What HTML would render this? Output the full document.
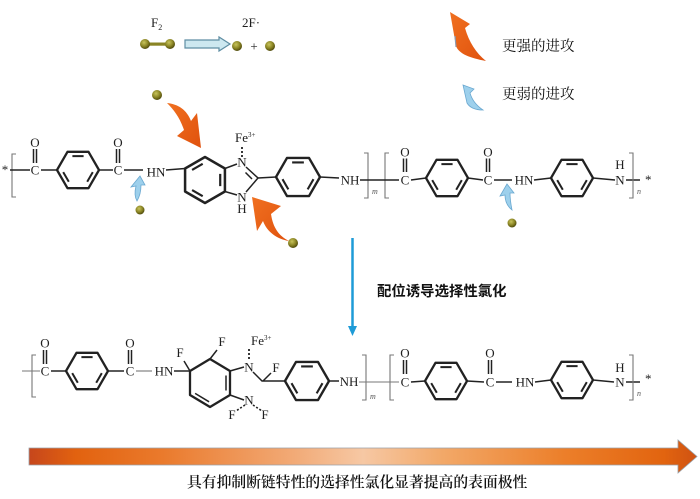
<!DOCTYPE html>
<html><head><meta charset="utf-8">
<style>
html,body{margin:0;padding:0;background:#fff;width:700px;height:499px;overflow:hidden;}
svg{display:block;}
.t{font-family:"Liberation Serif",serif;font-size:13px;fill:#1e1e1e;}
.s{font-family:"Liberation Serif",serif;font-size:8px;font-style:italic;fill:#555;}
.cn{font-family:"Liberation Serif","Noto Serif CJK SC",serif;font-size:14.5px;fill:#111;}
.b{stroke:#222;stroke-width:1.5;fill:none;}
.g{stroke:#777;stroke-width:1.1;fill:none;}
</style></head><body>
<svg width="700" height="499" viewBox="0 0 700 499" xmlns="http://www.w3.org/2000/svg">
<defs>
<g id="bz" fill="none" stroke="#222">
 <polygon points="21,0 10.5,18.19 -10.5,18.19 -21,0 -10.5,-18.19 10.5,-18.19" stroke-width="2.3" stroke-linejoin="round"/>
 <path d="M-5.6,-13.9 H5.6 M14.8,2.1 L9.2,11.8 M-14.8,2.1 L-9.2,11.8" stroke-width="2"/>
</g>
<radialGradient id="dot" cx="40%" cy="35%" r="65%">
 <stop offset="0" stop-color="#c8c45c"/><stop offset="0.6" stop-color="#8a8424"/><stop offset="1" stop-color="#4f4a0c"/>
</radialGradient>
<linearGradient id="big" x1="0" x2="1" y1="0" y2="0">
 <stop offset="0" stop-color="#c6461c"/>
 <stop offset="0.07" stop-color="#e2620f"/>
 <stop offset="0.2" stop-color="#ea7a2c"/>
 <stop offset="0.4" stop-color="#f2ab78"/>
 <stop offset="0.5" stop-color="#f6c8a4"/>
 <stop offset="0.62" stop-color="#f2a868"/>
 <stop offset="0.8" stop-color="#ec7f2a"/>
 <stop offset="0.95" stop-color="#e2640f"/>
 <stop offset="1" stop-color="#cf5212"/>
</linearGradient>
<linearGradient id="org" x1="0" x2="1" y1="0" y2="1">
 <stop offset="0" stop-color="#f07020"/><stop offset="1" stop-color="#e0520e"/>
</linearGradient>
</defs>

<!-- top reaction F2 -> 2F· -->
<text class="t" x="151" y="27">F<tspan font-size="8" dy="3">2</tspan></text>
<text class="t" x="242" y="27">2F·</text>
<rect x="145" y="42.5" width="25" height="3.2" fill="#8a8424"/>
<circle cx="145" cy="44" r="5" fill="url(#dot)"/>
<circle cx="170" cy="44" r="5" fill="url(#dot)"/>
<polygon points="185,40 219,40 219,37 230,44 219,51 219,48 185,48" fill="#cde8f0" stroke="#5f8ea3" stroke-width="1.2"/>
<circle cx="237" cy="46" r="5" fill="url(#dot)"/>
<text class="t" x="254" y="50.5" text-anchor="middle">+</text>
<circle cx="270" cy="46" r="5" fill="url(#dot)"/>

<!-- legend -->
<path d="M450,12 L470,24 L465,28 C469,42 476,53 486,61 C470,58 459,54 456,46 Z" fill="url(#org)"/>
<path d="M455,36 L456,47" stroke="#8a9ab0" stroke-width="1.2"/>
<text class="cn" x="502" y="51">更强的进攻</text>
<path d="M463,85 L474,89 L470,93 C472,100 477,106 483,110 C476,110 470,108 467,103 Z" fill="#9dd0ec" stroke="#6aa8d0" stroke-width="0.8"/>
<text class="cn" x="502" y="99">更弱的进攻</text>

<!-- attacking dots and arrows (upper) -->
<circle cx="157" cy="95" r="5" fill="url(#dot)"/>
<path d="M167,103 C178,104 187,110 191,121 L197,113 L201,148 L177,136 L184,130 C180,118 174,110 167,103 Z" fill="url(#org)"/>
<circle cx="293" cy="243" r="5" fill="url(#dot)"/>
<path d="M289,241 C279,236 273,228 271,214 L281,206 L252,197 L257,231 L263,221 C267,232 277,239 289,241 Z" fill="url(#org)"/>
<circle cx="140" cy="210" r="4.5" fill="url(#dot)"/>
<path d="M140,176 L145,185 L141,185 C141,191 140,196 137,201 C134,196 135,190 136,186 L131,187 Z" fill="#9dd0ec" stroke="#6aa8d0" stroke-width="0.8"/>
<circle cx="512" cy="223" r="4.5" fill="url(#dot)"/>
<path d="M507,184 L514,193 L510,193 C510,200 511,205 512,210 C507,206 505,201 505,195 L500,196 Z" fill="#9dd0ec" stroke="#6aa8d0" stroke-width="0.8"/>

<!-- ========== upper polymer ========== -->
<text class="t" x="5" y="174" text-anchor="middle" font-size="11">*</text>
<path class="g" d="M16,154 H12 V197 H16"/>
<path class="b" d="M10,170 H30"/>
<text class="t" x="35" y="174.5" text-anchor="middle">C</text>
<text class="t" x="35" y="147" text-anchor="middle">O</text>
<path class="b" d="M33.5,149 V163 M36.5,149 V163" stroke-width="1.2"/>
<path class="b" d="M41,170 H57"/>
<use href="#bz" transform="translate(78,170)"/>
<path class="b" d="M99,170 H113"/>
<text class="t" x="118" y="174.5" text-anchor="middle">C</text>
<text class="t" x="118" y="147" text-anchor="middle">O</text>
<path class="b" d="M116.5,149 V163 M119.5,149 V163" stroke-width="1.2"/>
<path class="b" d="M124,170 H143"/>
<text class="t" x="156" y="176.5" text-anchor="middle">HN</text>
<path class="b" d="M166,170 L185,168.5"/>
<use href="#bz" transform="translate(205,180) rotate(90) scale(1.095)"/>
<text class="t" x="242" y="166.5" text-anchor="middle">N</text>
<text class="t" x="242" y="201.5" text-anchor="middle">N</text>
<text class="t" x="242" y="213" text-anchor="middle">H</text>
<path class="b" d="M224.9,168.5 L237,164 M224.9,191.5 L237,195" stroke-width="2"/>
<path class="b" d="M246,167 L258,178 L246,192" stroke-width="2"/>
<path class="b" d="M245.5,172.5 L252,179" stroke-width="1.8"/>
<path class="b" d="M258,178 L276,177" stroke-width="2"/>
<text class="t" x="235" y="142" font-size="12">Fe<tspan font-size="7" dy="-5">3+</tspan></text>
<path d="M242,147 V157" stroke="#222" stroke-width="1.8" stroke-dasharray="2 2"/>
<use href="#bz" transform="translate(298,177) scale(1.048)"/>
<path class="b" d="M320,177 L339,178"/>
<text class="t" x="350" y="184.5" text-anchor="middle">NH</text>
<path class="g" d="M364,153 H368 V198 H364"/>
<text class="s" x="372" y="194">m</text>
<path class="g" d="M389,153 H385 V198 H389"/>
<path class="b" d="M360,180 H399"/>
<text class="t" x="405" y="184.5" text-anchor="middle">C</text>
<text class="t" x="405" y="156.5" text-anchor="middle">O</text>
<path class="b" d="M403.5,158.5 V172 M406.5,158.5 V172" stroke-width="1.2"/>
<path class="b" d="M411,180 L426,178"/>
<use href="#bz" transform="translate(447,178)"/>
<path class="b" d="M468,178 L483,180"/>
<text class="t" x="488" y="184.5" text-anchor="middle">C</text>
<text class="t" x="488" y="156.5" text-anchor="middle">O</text>
<path class="b" d="M486.5,158.5 V172 M489.5,158.5 V172" stroke-width="1.2"/>
<path class="b" d="M494,180 H512"/>
<text class="t" x="524" y="184.5" text-anchor="middle">HN</text>
<path class="b" d="M534,180 L551,178"/>
<use href="#bz" transform="translate(572,178)"/>
<path class="b" d="M593,178 L615,180"/>
<text class="t" x="620" y="184.5" text-anchor="middle">N</text>
<text class="t" x="620" y="169" text-anchor="middle">H</text>
<path class="b" d="M626,180 H640"/>
<path class="g" d="M629,153 H633 V198 H629"/>
<text class="s" x="637" y="194">n</text>
<text class="t" x="645" y="184" font-size="11">*</text>

<!-- vertical arrow + label -->
<path d="M352.5,238 V327" stroke="#1e9bd7" stroke-width="2.5"/>
<polygon points="348,326 357,326 352.5,336" fill="#1e9bd7"/>
<text x="377" y="296" font-family="'Liberation Sans','Noto Sans CJK SC',sans-serif" font-size="14.4" font-weight="bold" fill="#111">配位诱导选择性氯化</text>

<!-- ========== lower polymer ========== -->
<path class="g" d="M22,371 H40"/>
<path class="g" d="M36,355 H32 V397 H36"/>
<text class="t" x="45" y="375.5" text-anchor="middle">C</text>
<text class="t" x="45" y="347.5" text-anchor="middle">O</text>
<path class="b" d="M43.5,350 V364 M46.5,350 V364" stroke-width="1.2"/>
<path class="b" d="M51,371 H66"/>
<use href="#bz" transform="translate(87,371)"/>
<path class="b" d="M108,371 H124"/>
<text class="t" x="130" y="375.5" text-anchor="middle">C</text>
<text class="t" x="130" y="347.5" text-anchor="middle">O</text>
<path class="b" d="M128.5,350 V364 M131.5,350 V364" stroke-width="1.2"/>
<path class="g" d="M136,371 H152" stroke-width="1.4"/>
<text class="t" x="164" y="375.5" text-anchor="middle">HN</text>
<path class="b" d="M174,371 H190"/>
<path d="M190,371 L210,359 L230,371 L230,395 L210,407 L190,395 Z" fill="none" stroke="#222" stroke-width="2.3" stroke-linejoin="round"/>
<path class="b" d="M226,375.5 V390.5 M195.1,393.4 L209.1,401.8" stroke-width="2"/>
<path class="b" d="M190,371 L184,361 M210,359 L217,350"/>
<text class="t" x="180" y="357" text-anchor="middle">F</text>
<text class="t" x="222" y="346" text-anchor="middle">F</text>
<text class="t" x="249" y="371.5" text-anchor="middle">N</text>
<path class="b" d="M230,371 L244,367" stroke-width="2"/>
<text class="t" x="251" y="345" font-size="12">Fe<tspan font-size="7" dy="-5">3+</tspan></text>
<path d="M249,349 V359" stroke="#222" stroke-width="1.8" stroke-dasharray="2 2"/>
<path class="b" d="M253,372 L262,381 H285" stroke-width="2"/>
<path class="b" d="M263,381 L271,373"/>
<text class="t" x="276" y="372" text-anchor="middle">F</text>
<use href="#bz" transform="translate(307,381) scale(1.048)"/>
<path class="b" d="M329,381 H339"/>
<text class="t" x="349" y="386" text-anchor="middle">NH</text>
<path class="b" d="M230,395 L244,400" stroke-width="2"/>
<text class="t" x="249" y="404.5" text-anchor="middle">N</text>
<path d="M245,405 L236,411 M253,405 L262,411" stroke="#222" stroke-width="1.6" stroke-dasharray="2 1.8"/>
<text class="t" x="232" y="419" text-anchor="middle">F</text>
<text class="t" x="265" y="419" text-anchor="middle">F</text>

<path class="g" d="M362,355 H366 V400 H362"/>
<text class="s" x="370" y="399">m</text>
<path class="g" d="M394,355 H390 V400 H394"/>
<path class="g" d="M359,382 H399" stroke-width="1.4"/>
<text class="t" x="405" y="386.5" text-anchor="middle">C</text>
<text class="t" x="405" y="357.5" text-anchor="middle">O</text>
<path class="b" d="M403.5,360 V374 M406.5,360 V374" stroke-width="1.2"/>
<path class="b" d="M411,382 L425,381"/>
<use href="#bz" transform="translate(446,381)"/>
<path class="b" d="M467,381 L484,382"/>
<text class="t" x="490" y="386.5" text-anchor="middle">C</text>
<text class="t" x="490" y="357.5" text-anchor="middle">O</text>
<path class="b" d="M488.5,360 V374 M491.5,360 V374" stroke-width="1.2"/>
<path class="b" d="M496,382 H512"/>
<text class="t" x="525" y="386.5" text-anchor="middle">HN</text>
<path class="b" d="M535,382 L551,380"/>
<use href="#bz" transform="translate(572,380)"/>
<path class="b" d="M593,380 L614,382"/>
<text class="t" x="620" y="386.5" text-anchor="middle">N</text>
<text class="t" x="620" y="372" text-anchor="middle">H</text>
<path class="b" d="M626,382 H640"/>
<path class="g" d="M629,355 H633 V400 H629"/>
<text class="s" x="637" y="396">n</text>
<text class="t" x="645" y="383" font-size="11">*</text>

<!-- bottom big arrow -->
<polygon points="29,448 678,448 678,440 697,456.5 678,473 678,465 29,465" fill="url(#big)" stroke="#9aa0a8" stroke-width="0.8"/>
<text x="187" y="487" font-family="'Liberation Serif','Noto Serif CJK SC',serif" font-size="14.8" font-weight="600" fill="#111">具有抑制断链特性的选择性氯化显著提高的表面极性</text>
</svg>
</body></html>
